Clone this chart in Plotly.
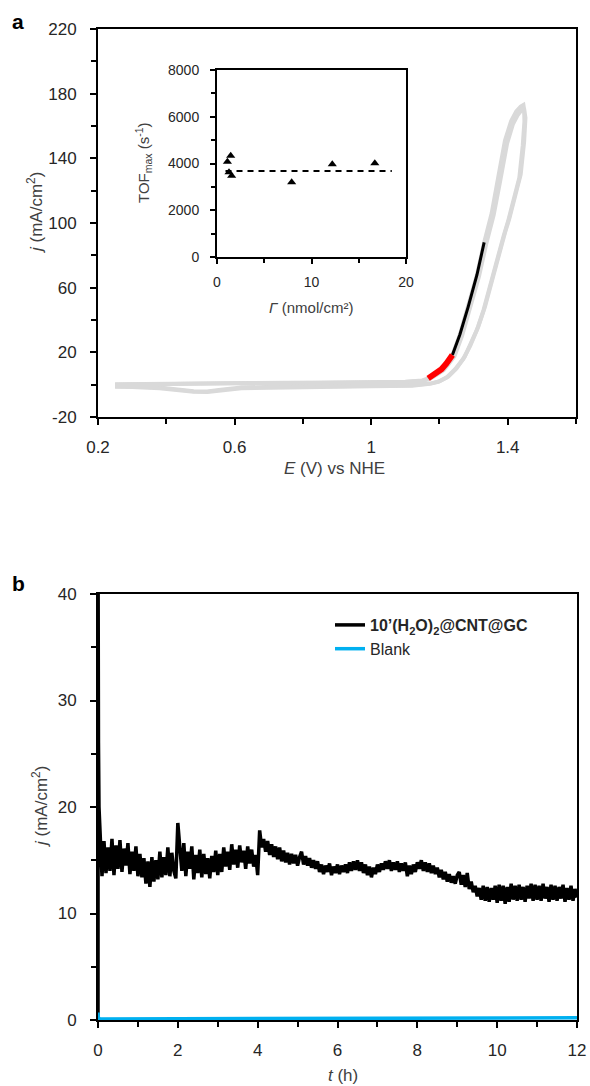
import plotly.graph_objects as go

# ---- panel a: CV (two cycles, grey) ----
E_c1 = [0.25, 0.35, 0.45, 0.55, 0.65, 0.75, 0.85, 0.95, 1.05, 1.10, 1.15, 1.167, 1.19, 1.206, 1.22, 1.238,
        1.26, 1.284, 1.31, 1.331, 1.353, 1.372, 1.392, 1.41, 1.425, 1.438, 1.446, 1.452, 1.448, 1.438, 1.42,
        1.405, 1.392, 1.372, 1.353, 1.333, 1.314, 1.294, 1.274, 1.25, 1.226, 1.20, 1.176, 1.12, 1.0, 0.9,
        0.8, 0.7, 0.62, 0.56, 0.52, 0.48, 0.44, 0.38, 0.30, 0.25]
j_c1 = [0.3, 0.6, 0.8, 1.0, 1.3, 1.2, 1.2, 1.3, 1.5, 1.8, 2.6, 3.9, 7, 9.5, 13, 18.3,
        31, 48, 68, 88, 106, 128, 151, 163, 169, 172, 173, 165, 150, 130, 114,
        103, 94, 78, 63, 48, 36, 26, 17.3, 10, 5, 2, 0.8, -0.3, -0.8, -1,
        -1, -1.2, -1.8, -3.2, -4.2, -4, -3, -1.8, -1.2, -1]

E_c2 = [0.25, 0.35, 0.45, 0.55, 0.65, 0.75, 0.85, 0.95, 1.05, 1.10, 1.15, 1.172, 1.195, 1.212, 1.226, 1.244,
        1.266, 1.29, 1.316, 1.337, 1.359, 1.378, 1.398, 1.415, 1.43, 1.441, 1.448, 1.449, 1.444, 1.434, 1.416,
        1.401, 1.388, 1.368, 1.349, 1.329, 1.31, 1.29, 1.27, 1.246, 1.222, 1.196, 1.172, 1.12, 1.0, 0.9,
        0.8, 0.7, 0.62, 0.56, 0.52, 0.48, 0.44, 0.38, 0.30, 0.25]
j_c2 = [0.0, 0.4, 0.6, 0.9, 1.1, 1.0, 1.0, 1.1, 1.3, 1.6, 2.3, 3.6, 6.6, 9.0, 12.4, 17.6,
        30, 47, 67, 87, 105, 126, 149, 161, 167, 170, 171, 163, 148, 128, 112,
        101, 92, 76, 61, 46, 34, 24, 16, 9.5, 4.6, 1.8, 0.5, -0.6, -1.0, -1.3,
        -1.3, -1.5, -2.2, -3.6, -4.6, -4.4, -3.4, -2.2, -1.5, -1.3]

E_red = [1.167, 1.19, 1.206, 1.22, 1.238]
j_red = [3.9, 7, 9.5, 13, 18.3]
E_blk = [1.238, 1.26, 1.284, 1.31, 1.331]
j_blk = [18.3, 31, 48, 68, 88]

ticks_a_y = [-20, 20, 60, 100, 140, 180, 220]
ticks_a_y_text = ["-20", "20", "60", "100", "140", "180", "220"]

# ---- inset: TOFmax vs surface coverage ----
gamma = [1.1, 1.45, 1.27, 1.55, 7.9, 12.2, 16.7]
tof = [4077, 4334, 3623, 3478, 3196, 3966, 4008]
fit_gamma = [0.9, 18.5]
fit_tof = [3680, 3680]

# ---- panel b: chronoamperometry ----
t_start = [0, 0.004, 0.012, 0.025, 0.04]
j_start = [0.3, 40, 26, 20, 18.5]
j_hours = [
    [17.0, 13.5, 16.8, 13.8, 16.2, 14.0, 17.0, 13.6, 16.4, 14.2, 16.9, 13.9, 16.1, 14.5, 16.6, 13.7, 15.8, 14.0, 16.3, 13.5],
    [15.6, 13.4, 15.2, 12.8, 14.9, 12.5, 15.3, 13.0, 15.0, 13.2, 15.8, 13.4, 15.3, 13.6, 16.2, 13.5, 15.7, 14.0, 13.3, 18.5],
    [16.2, 14.0, 16.6, 13.5, 15.8, 14.2, 16.3, 13.2, 15.5, 13.8, 16.0, 13.4, 15.6, 13.7, 15.2, 13.3, 15.4, 13.9, 15.9, 13.6],
    [15.6, 13.9, 16.2, 14.4, 15.8, 14.1, 16.5, 14.6, 16.0, 14.3, 16.4, 14.8, 15.9, 14.2, 16.3, 14.7, 16.0, 14.4, 15.5, 13.6],
    [17.8, 16.2, 17.0, 15.8, 16.8, 15.5, 16.5, 15.3, 16.3, 15.1, 16.2, 14.9, 15.9, 14.8, 15.7, 14.6, 15.6, 14.7, 15.5, 14.5],
    [15.3, 15.8, 14.6, 15.4, 14.5, 15.2, 14.3, 15.0, 14.2, 14.9, 13.9, 14.6, 13.7, 14.5, 13.9, 14.7, 13.6, 14.4, 13.8, 14.6],
    [13.7, 14.5, 13.9, 14.6, 13.8, 14.8, 14.0, 14.9, 14.1, 15.0, 14.0, 14.8, 13.8, 14.6, 13.6, 14.4, 13.4, 14.3, 13.7, 14.6],
    [13.9, 14.7, 14.1, 14.9, 14.2, 15.0, 14.0, 14.8, 14.1, 14.9, 13.9, 14.7, 14.0, 14.8, 13.5, 14.5, 13.7, 14.6, 13.9, 14.8],
    [14.2, 15.0, 14.0, 14.8, 13.9, 14.7, 13.8, 14.5, 13.7, 14.3, 13.4, 14.1, 13.2, 13.9, 13.0, 13.7, 12.9, 13.5, 12.8, 13.6],
    [13.9, 12.7, 13.6, 12.5, 13.8, 12.3, 13.0, 12.0, 12.6, 11.6, 12.4, 11.3, 12.6, 11.2, 12.5, 11.1, 12.4, 11.3, 12.6, 11.0],
    [12.7, 11.2, 12.6, 10.9, 12.5, 11.1, 12.8, 11.3, 12.6, 11.2, 12.7, 11.3, 12.5, 11.1, 12.6, 11.4, 12.8, 11.2, 12.7, 11.3],
    [12.6, 11.2, 12.8, 11.4, 12.5, 11.1, 12.7, 11.3, 12.6, 11.2, 12.5, 11.4, 12.7, 11.1, 12.4, 11.3, 12.6, 11.2, 12.3, 11.5],
]
t_blank = [0, 0.01, 0.05, 4, 8, 12]
j_blank = [0.7, 0.2, 0.1, 0.12, 0.18, 0.2]

t_cat = t_start + [round(0.05 * (k + 1), 2) for k in range(240)]
j_cat = j_start + [v for row in j_hours for v in row]

W, H = 590, 1086
font = "Liberation Sans, Arial, sans-serif"
tickc = "#262626"
titc = "#404040"


def px(x):
    return x / W


def py(y):
    return 1 - y / H


fig = go.Figure()

gray = "#d9d9d9"
fig.add_trace(go.Scatter(x=E_c1, y=j_c1, mode="lines", line=dict(color=gray, width=4), showlegend=False,
                         xaxis="x", yaxis="y"))
fig.add_trace(go.Scatter(x=E_c2, y=j_c2, mode="lines", line=dict(color=gray, width=4), showlegend=False,
                         xaxis="x", yaxis="y"))
fig.add_trace(go.Scatter(x=E_blk, y=j_blk, mode="lines", line=dict(color="black", width=3), showlegend=False,
                         xaxis="x", yaxis="y"))
fig.add_trace(go.Scatter(x=E_red, y=j_red, mode="lines", line=dict(color="#ff0000", width=6), showlegend=False,
                         xaxis="x", yaxis="y"))

# inset
fig.add_trace(go.Scatter(x=fit_gamma, y=fit_tof, mode="lines", line=dict(color="black", width=2, dash="6px,5px"),
                         showlegend=False, xaxis="x2", yaxis="y2"))
fig.add_trace(go.Scatter(x=gamma, y=tof, mode="markers", marker=dict(symbol="triangle-up", color="black", size=8),
                         showlegend=False, xaxis="x2", yaxis="y2"))

# panel b
fig.add_trace(go.Scatter(x=t_cat, y=j_cat, mode="lines", line=dict(color="black", width=3.5),
                         name="<b>10’(H<sub>2</sub>O)<sub>2</sub>@CNT@GC</b>", xaxis="x3", yaxis="y3"))
fig.add_trace(go.Scatter(x=t_blank, y=j_blank, mode="lines", line=dict(color="#00b0f0", width=3.5),
                         name="Blank", xaxis="x3", yaxis="y3"))


def ax(domain, rng, dtick, minor, anchor, size=17, ticklen=6, lw=2, standoff=6):
    return dict(domain=domain, range=rng, dtick=dtick, tick0=rng[0], anchor=anchor, automargin=False,
                showline=True, linecolor="black", linewidth=lw, mirror=True,
                ticks="outside", ticklen=ticklen, tickwidth=lw, tickcolor="black",
                minor=dict(dtick=minor, tick0=rng[0], ticks="outside", ticklen=ticklen - 1,
                           tickwidth=lw, tickcolor="black"),
                showgrid=False, zeroline=False, ticklabelstandoff=standoff,
                tickfont=dict(family=font, size=size, color=tickc))


ya = ax([py(417), py(29)], [-20, 220], 40, 20, "x", standoff=10)
ya.update(tickmode="array", tickvals=ticks_a_y, ticktext=ticks_a_y_text)

fig.update_layout(
    width=W, height=H, margin=dict(l=0, r=0, t=0, b=0, autoexpand=False),
    paper_bgcolor="white", plot_bgcolor="white",
    font=dict(family=font, color=tickc),
    xaxis=ax([px(98), px(576)], [0.2, 1.6], 0.4, 0.2, "y", standoff=8),
    yaxis=ya,
    xaxis2=ax([px(217), px(406)], [0, 20], 10, 5, "y2", size=14, ticklen=5, standoff=6),
    yaxis2=ax([py(257), py(70)], [0, 8000], 2000, 1000, "x2", size=14, ticklen=5, standoff=8),
    xaxis3=ax([px(98), px(577)], [0, 12], 2, 1, "y3", standoff=8),
    yaxis3=ax([py(1020), py(594)], [0, 40], 10, 5, "x3", standoff=10),
    legend=dict(x=px(330), y=py(608), xanchor="left", yanchor="top", bgcolor="rgba(0,0,0,0)",
                font=dict(family=font, size=16, color="#262626"), tracegroupgap=0, itemwidth=30),
)

annots = [
    dict(text="<b>a</b>", x=px(18), y=py(22), font=dict(size=21, color="black")),
    dict(text="<b>b</b>", x=px(18), y=py(583), font=dict(size=21, color="black")),
    dict(text="<i>j</i> (mA/cm<sup>2</sup>)", x=px(35), y=py(213), textangle=-90, font=dict(size=17, color=titc)),
    dict(text="<i>E</i> (V) vs NHE", x=px(334), y=py(468), font=dict(size=17, color=titc)),
    dict(text="TOF<sub>max</sub> (s<sup>-1</sup>)", x=px(143), y=py(163), textangle=-90,
         font=dict(size=15, color=titc)),
    dict(text="<i>Γ</i> (nmol/cm²)", x=px(311), y=py(308), font=dict(size=15, color=titc)),
    dict(text="<i>j</i> (mA/cm<sup>2</sup>)", x=px(40), y=py(807), textangle=-90, font=dict(size=17, color=titc)),
    dict(text="<i>t</i> (h)", x=px(343), y=py(1075), font=dict(size=17, color=titc)),
]
for a in annots:
    a.update(xref="paper", yref="paper", showarrow=False, xanchor="center", yanchor="middle")
    a["font"]["family"] = font
fig.update_layout(annotations=annots)

# drop the default 8px page margin so the 590x1086 figure fills the window exactly
fig.write_html("out.html", config={"displayModeBar": False},
               post_script="document.body.style.margin='0';")
